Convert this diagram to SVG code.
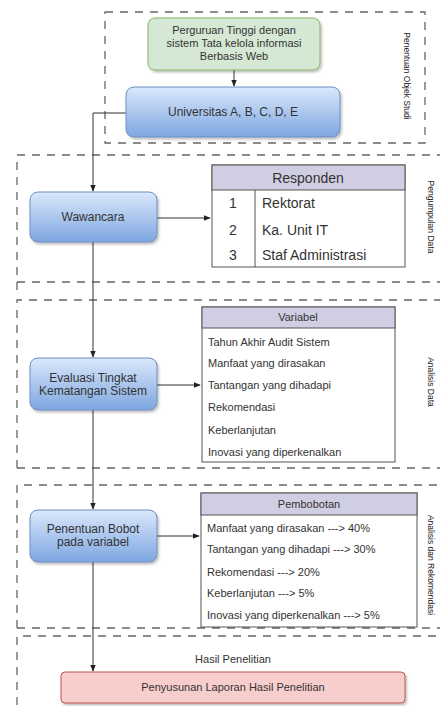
<svg xmlns="http://www.w3.org/2000/svg" width="440" height="706" viewBox="0 0 440 706">
<defs>
<linearGradient id="blue" x1="0" y1="0" x2="0" y2="1">
<stop offset="0" stop-color="#dae8fc"/>
<stop offset="1" stop-color="#7ea6e0"/>
</linearGradient>
<marker id="arr" viewBox="0 0 10 10" refX="9" refY="5" markerWidth="7" markerHeight="7" orient="auto">
<path d="M0,1 L10,5 L0,9 z" fill="#222"/>
</marker>
<filter id="sh" x="-10%" y="-10%" width="130%" height="140%">
<feDropShadow dx="1.5" dy="2" stdDeviation="1" flood-color="#000" flood-opacity="0.25"/>
</filter>
</defs>
<style>
.sec{fill:none;stroke:#666;stroke-width:1.3;stroke-dasharray:8 7}
.bx{fill:url(#blue);stroke:#6c8ebf;stroke-width:1;filter:url(#sh)}
.t{font-family:"Liberation Sans",Arial,sans-serif;font-size:11px;fill:#333;text-anchor:middle}
.r{font-family:"Liberation Sans",Arial,sans-serif;font-size:11px;fill:#333}
.big{font-family:"Liberation Sans",Arial,sans-serif;font-size:14px;fill:#333}
.side{font-family:"Liberation Sans",Arial,sans-serif;font-size:8.5px;fill:#222;text-anchor:middle}
.tbl{fill:#fff;stroke:#555;stroke-width:1}
.hd{fill:#d0cee2;stroke:#555;stroke-width:1}
.ln{fill:none;stroke:#333;stroke-width:1}
</style>
<rect width="440" height="706" fill="#fff"/>

<g id="sections">
<rect class="sec" x="105" y="12" width="320" height="131"/>
<path class="sec" d="M17,290 V155 H445"/>
<path class="sec" d="M445,282 H17"/>
<path class="sec" d="M17,468 V300 H445"/>
<path class="sec" d="M445,468 H17"/>
<path class="sec" d="M17,628 V485 H445"/>
<path class="sec" d="M445,628 H17"/>
<path class="sec" d="M17,720 V636 H445"/>
<text class="side" transform="translate(404,76) rotate(90)">Penentuan Objek Studi</text>
<text class="side" transform="translate(428,217) rotate(90)">Pengumpulan Data</text>
<text class="side" transform="translate(428,382) rotate(90)">Analisis Data</text>
<text class="side" transform="translate(428,565) rotate(90)">Analisis dan Rekomendasi</text>
<text class="t" x="233" y="663">Hasil Penelitian</text>
</g>

<g id="connectors">
<path class="ln" d="M234,70 V86" marker-end="url(#arr)"/>
<path class="ln" d="M126,113 H93 V191" marker-end="url(#arr)"/>
<path class="ln" d="M93,242 V357" marker-end="url(#arr)"/>
<path class="ln" d="M93,410 V509" marker-end="url(#arr)"/>
<path class="ln" d="M93,562 V671" marker-end="url(#arr)"/>
<path class="ln" d="M157,218 H210" marker-end="url(#arr)"/>
<path class="ln" d="M157,385 H200" marker-end="url(#arr)"/>
<path class="ln" d="M157,536 H199" marker-end="url(#arr)"/>
</g>

<g id="n-perguruan">
<rect x="148" y="18" width="172" height="52" rx="7" fill="#d5e8d4" stroke="#82b366" filter="url(#sh)"/>
<text class="t" x="234" y="34">Perguruan Tinggi dengan</text>
<text class="t" x="234" y="47">sistem Tata kelola informasi</text>
<text class="t" x="234" y="60">Berbasis Web</text>
</g>

<g id="n-universitas">
<rect class="bx" x="126" y="87" width="214" height="50" rx="8"/>
<text class="t" x="233" y="116" style="font-size:12px">Universitas A, B, C, D, E</text>
</g>

<g id="n-wawancara">
<rect class="bx" x="30" y="192" width="127" height="50" rx="8"/>
<text class="t" x="93" y="221" style="font-size:12px">Wawancara</text>
</g>

<g id="n-responden">
<rect class="tbl" x="212" y="165" width="193" height="102"/>
<rect class="hd" x="212" y="165" width="193" height="25"/>
<line x1="255" y1="190" x2="255" y2="267" stroke="#555"/>
<text class="big" x="308" y="183" text-anchor="middle">Responden</text>
<text class="big" x="233" y="208" text-anchor="middle">1</text>
<text class="big" x="262" y="208">Rektorat</text>
<text class="big" x="233" y="235" text-anchor="middle">2</text>
<text class="big" x="262" y="235">Ka. Unit IT</text>
<text class="big" x="233" y="260" text-anchor="middle">3</text>
<text class="big" x="262" y="260">Staf Administrasi</text>
</g>

<g id="n-evaluasi">
<rect class="bx" x="30" y="358" width="127" height="52" rx="8"/>
<text class="t" x="93" y="382" style="font-size:12px">Evaluasi Tingkat</text>
<text class="t" x="93" y="395" style="font-size:12px">Kematangan Sistem</text>
</g>

<g id="n-variabel">
<rect class="tbl" x="202" y="307" width="193" height="155"/>
<rect class="hd" x="202" y="307" width="193" height="21"/>
<text class="t" x="298" y="321">Variabel</text>
<text class="r" x="208" y="346">Tahun Akhir Audit Sistem</text>
<text class="r" x="208" y="367">Manfaat yang dirasakan</text>
<text class="r" x="208" y="389">Tantangan yang dihadapi</text>
<text class="r" x="208" y="411">Rekomendasi</text>
<text class="r" x="208" y="434">Keberlanjutan</text>
<text class="r" x="208" y="456">Inovasi yang diperkenalkan</text>
</g>

<g id="n-penentuan">
<rect class="bx" x="30" y="510" width="127" height="52" rx="8"/>
<text class="t" x="93" y="533" style="font-size:12px">Penentuan Bobot</text>
<text class="t" x="93" y="546" style="font-size:12px">pada variabel</text>
</g>

<g id="n-pembobotan">
<rect class="tbl" x="201" y="493" width="216" height="134"/>
<rect class="hd" x="201" y="493" width="216" height="22"/>
<text class="t" x="309" y="508">Pembobotan</text>
<text class="r" x="207" y="532">Manfaat yang dirasakan ---&gt; 40%</text>
<text class="r" x="207" y="553">Tantangan yang dihadapi ---&gt; 30%</text>
<text class="r" x="207" y="576">Rekomendasi ---&gt; 20%</text>
<text class="r" x="207" y="597">Keberlanjutan ---&gt; 5%</text>
<text class="r" x="207" y="619">Inovasi yang diperkenalkan ---&gt; 5%</text>
</g>

<g id="n-laporan">
<rect x="61" y="672" width="344" height="31" rx="4" fill="#f8cecc" stroke="#b85450" filter="url(#sh)"/>
<text class="t" x="233" y="691">Penyusunan Laporan Hasil Penelitian</text>
</g>
</svg>
